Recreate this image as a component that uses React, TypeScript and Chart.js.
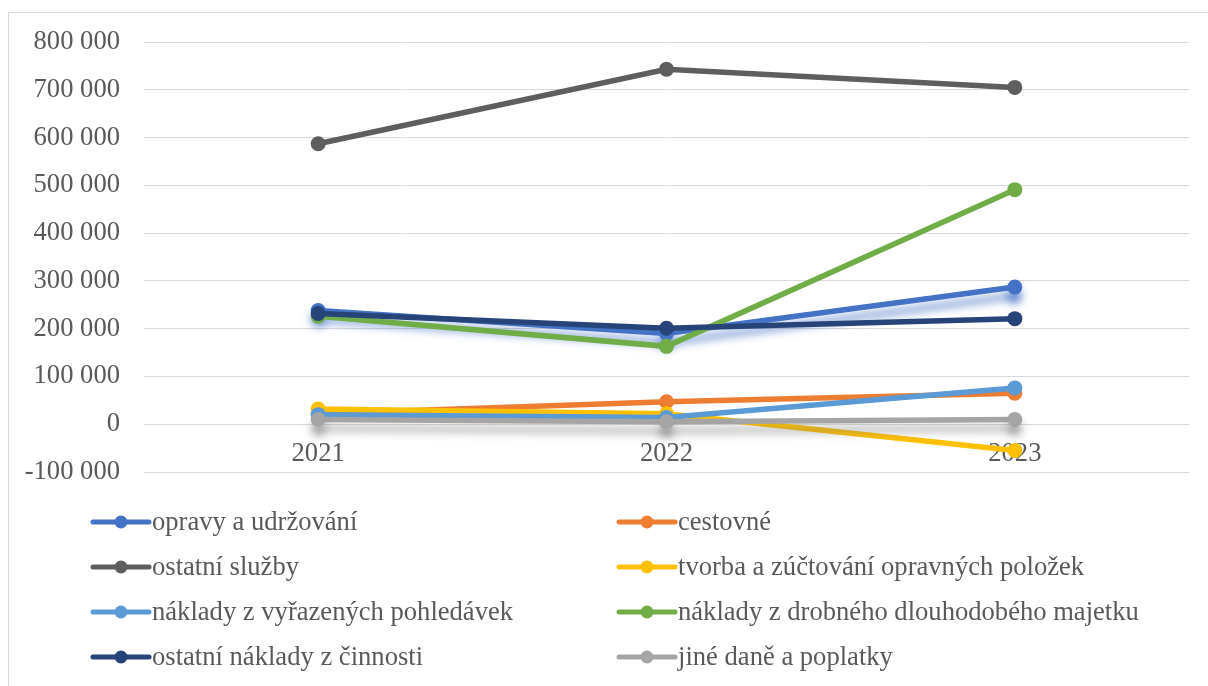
import React, { useEffect, useRef } from "react";
import { Chart, registerables } from "chart.js";

Chart.register(...registerables);

const years = ["2021", "2022", "2023"];

const seriesNames = [
  "opravy a udržování",
  "cestovné",
  "ostatní služby",
  "tvorba a zúčtování opravných položek",
  "náklady z vyřazených pohledávek",
  "náklady z drobného dlouhodobého majetku",
  "ostatní náklady z činnosti",
  "jiné daně a poplatky",
];

const opravy = [238000, 190000, 287000];
const cestovne = [22000, 47000, 65000];
const ostatniSluzby = [587000, 743000, 705000];
const tvorba = [32000, 22000, -55000];
const vyrazene = [20000, 14000, 76000];
const drobny = [226000, 163000, 491000];
const ostatniNaklady = [232000, 201000, 221000];
const jineDane = [10000, 5000, 10000];

const seriesValues = [opravy, cestovne, ostatniSluzby, tvorba, vyrazene, drobny, ostatniNaklady, jineDane];

const seriesColors = ["#4472C4", "#ED7D31", "#5E5E5E", "#FFC000", "#5B9BD5", "#70AD47", "#264478", "#A5A5A5"];
const seriesShadows = ["rgba(68,114,196,0.75)", null, null, null, null, null, null, "rgba(120,120,120,0.6)"];

const yMin = -100000;
const yMax = 800000;
const yStep = 100000;

const FONT = "'Liberation Serif', 'Times New Roman', serif";
const TEXT = "#595959";

function fmt(v: number): string {
  const s = String(Math.abs(v)).replace(/\B(?=(\d{3})+(?!\d))/g, " ");
  return v < 0 ? "-" + s : s;
}

const shadowPlugin = {
  id: "seriesShadow",
  beforeDatasetDraw(chart: any, args: any) {
    const sc = seriesShadows[args.index];
    const ctx = chart.ctx;
    ctx.save();
    if (sc) {
      ctx.shadowColor = sc;
      ctx.shadowBlur = 9;
      ctx.shadowOffsetX = 0;
      ctx.shadowOffsetY = 9;
    }
  },
  afterDatasetDraw(chart: any) {
    chart.ctx.restore();
  },
};

const legendPlugin = {
  id: "gridLegend",
  afterDraw(chart: any) {
    const ctx = chart.ctx;
    const colLine = [84, 610];
    const lineLen = 56;
    const rowY0 = 509;
    const rowGap = 45;
    ctx.save();
    chart.data.datasets.forEach((ds: any, i: number) => {
      const col = i % 2;
      const row = Math.floor(i / 2);
      const x0 = colLine[col];
      const y = rowY0 + row * rowGap;
      ctx.strokeStyle = ds.borderColor;
      ctx.lineWidth = 5;
      ctx.lineCap = "round";
      ctx.beginPath();
      ctx.moveTo(x0, y);
      ctx.lineTo(x0 + lineLen, y);
      ctx.stroke();
      ctx.fillStyle = ds.borderColor;
      ctx.beginPath();
      ctx.arc(x0 + lineLen / 2, y, 6.5, 0, Math.PI * 2);
      ctx.fill();
      ctx.fillStyle = TEXT;
      ctx.font = `26.6px ${FONT}`;
      ctx.textBaseline = "middle";
      ctx.textAlign = "left";
      ctx.fillText(ds.label, x0 + lineLen + 3, y + 1);
    });
    ctx.restore();
  },
};

export default function App() {
  const canvasRef = useRef<HTMLCanvasElement | null>(null);

  useEffect(() => {
    if (!canvasRef.current) return;
    const chart = new Chart(canvasRef.current, {
      type: "line",
      data: {
        labels: years,
        datasets: seriesNames.map((name, i) => ({
          label: name,
          data: seriesValues[i],
          borderColor: seriesColors[i],
          backgroundColor: seriesColors[i],
          pointBackgroundColor: seriesColors[i],
          pointBorderWidth: 0,
          pointRadius: 7.5,
          borderWidth: 5.5,
          tension: 0,
          fill: false,
          order: seriesNames.length - i,
        })),
      },
      options: {
        animation: false,
        responsive: false,
        maintainAspectRatio: false,
        events: [],
        layout: { padding: { left: 0, right: 19, top: 29, bottom: 214 } },
        plugins: {
          legend: { display: false },
          tooltip: { enabled: false },
        },
        scales: {
          x: {
            type: "category",
            offset: true,
            position: { y: 0 } as any,
            grid: { display: false, drawTicks: false },
            border: { display: false },
            ticks: {
              color: TEXT,
              padding: 14,
              font: { family: FONT, size: 26.6 },
              maxRotation: 0,
            },
          },
          y: {
            min: yMin,
            max: yMax,
            afterFit: (s: any) => {
              s.width = 135;
              s.paddingTop = 16;
              s.paddingBottom = 16;
            },
            grid: { color: "#D9D9D9", lineWidth: 1, drawTicks: false },
            border: { display: false },
            ticks: {
              stepSize: yStep,
              color: TEXT,
              padding: 24,
              font: { family: FONT, size: 26.6 },
              callback: (v: any) => fmt(Number(v)),
            },
          },
        },
      },
      plugins: [shadowPlugin, legendPlugin],
    });
    return () => chart.destroy();
  }, []);

  return (
    <div
      style={{
        position: "absolute",
        left: 8,
        top: 12,
        width: 1200,
        height: 674,
        boxSizing: "border-box",
        borderTop: "1px solid #D9D9D9",
        borderLeft: "1px solid #D9D9D9",
        background: "#fff",
        overflow: "hidden",
      }}
    >
      <canvas ref={canvasRef} width={1199} height={673} style={{ display: "block", width: 1199, height: 673 }} />
    </div>
  );
}
